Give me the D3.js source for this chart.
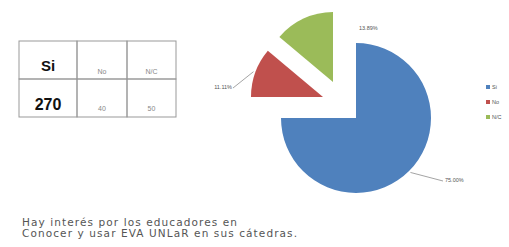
<!DOCTYPE html>
<html>
<head>
<meta charset="utf-8">
<script src="https://cdn.jsdelivr.net/npm/d3@7"></script>
<style>
    body { margin: 0; background: #fff; }
    svg { display: block; font-family: 'Liberation Sans', Arial, sans-serif; }
</style>
</head>
<body>
<svg id="chart" width="509" height="247"></svg>
<script>
const categories = ['Si', 'No', 'N/C']
const counts = [270, 40, 50]
const percentLabels = ['75.00%', '11.11%', '13.89%']
const colors = ['#4F81BD', '#C0504D', '#9BBB59']
const noteLines = ['Hay interés por los educadores en', 'Conocer y usar EVA UNLaR en sus cátedras.']

const svg = d3.select('#chart')

// table with the counts
const table = svg.append('g')
const colX = d3.scaleOrdinal().domain(categories).range([19, 77, 127])
const colW = d3.scaleOrdinal().domain(categories).range([58, 50, 49])
const rowY = [41, 79]
const rowH = [38, 38]

categories.forEach((c, i) => {
    rowY.forEach((y, r) => {
        table.append('rect')
            .attr('x', colX(c))
            .attr('y', y)
            .attr('width', colW(c))
            .attr('height', rowH[r])
            .attr('fill', 'none')
            .attr('stroke', '#999')
            .attr('stroke-width', 1)
    })
    const big = i === 0
    table.append('text')
        .attr('x', colX(c) + colW(c) / 2)
        .attr('y', big ? 71 : 74)
        .attr('text-anchor', 'middle')
        .attr('font-size', big ? 15 : 7)
        .attr('font-weight', big ? 'bold' : 'normal')
        .attr('fill', big ? '#111' : '#888')
        .text(c)
    table.append('text')
        .attr('x', colX(c) + colW(c) / 2)
        .attr('y', big ? 110 : 111)
        .attr('text-anchor', 'middle')
        .attr('font-size', big ? 16 : 7)
        .attr('font-weight', big ? 'bold' : 'normal')
        .attr('fill', big ? '#111' : '#888')
        .text(counts[i])
})

// pie
const cx = 356, cy = 118
const pie = d3.pie().sort(null).startAngle(0).endAngle(2 * Math.PI)
const arcs = pie(counts)
const explode = [[0, 0], [-33, -21], [-23, -36]]
const radius = [75, 72, 70]

const mid = d => (d.startAngle + d.endAngle) / 2
const polar = (d, k) => [Math.sin(mid(d)) * k, -Math.cos(mid(d)) * k]

const pieG = svg.append('g').attr('transform', `translate(${cx},${cy})`)

pieG.selectAll('path.slice')
    .data(arcs)
    .join('path')
    .attr('class', 'slice')
    .attr('d', (d, i) => d3.arc().innerRadius(0).outerRadius(radius[i])(d))
    .attr('fill', (d, i) => colors[i])
    .attr('transform', (d, i) => `translate(${explode[i][0]},${explode[i][1]})`)

// leader lines + labels
const labelPos = [[445, 182, 'start'], [232, 89, 'end'], [359, 30, 'start']]
arcs.forEach((d, i) => {
    const [ex, ey] = explode[i]
    const [ax, ay] = polar(d, radius[i] + 2)
    const [lx, ly, anchor] = labelPos[i]
    if (i !== 2) {
        pieG.append('path')
            .attr('d', d3.line()([[ex + ax, ey + ay], [lx - cx + (anchor === 'end' ? 1 : -2), ly - cy - 1]]))
            .attr('fill', 'none')
            .attr('stroke', '#666')
            .attr('stroke-width', 0.6)
    }
    svg.append('text')
        .attr('x', lx)
        .attr('y', ly)
        .attr('text-anchor', anchor)
        .attr('font-size', 5.5)
        .attr('fill', '#555')
        .text(percentLabels[i])
})

// legend
const legendY = d3.scalePoint().domain(categories).range([87, 117])
const legend = svg.append('g')
categories.forEach((c, i) => {
    legend.append('rect')
        .attr('x', 486)
        .attr('y', legendY(c) - 2)
        .attr('width', 4)
        .attr('height', 4)
        .attr('fill', colors[i])
    legend.append('text')
        .attr('x', 492)
        .attr('y', legendY(c) + 2)
        .attr('font-size', 5.5)
        .attr('fill', '#555')
        .text(c)
})

// note below
svg.append('g')
    .selectAll('text')
    .data(noteLines)
    .join('text')
    .attr('x', 22)
    .attr('y', (d, i) => 226 + i * 11)
    .attr('font-family', 'DejaVu Sans, sans-serif')
    .attr('font-size', 10.5)
    .attr('letter-spacing', 1.1)
    .attr('fill', '#555')
    .text(d => d)
</script>
</body>
</html>
